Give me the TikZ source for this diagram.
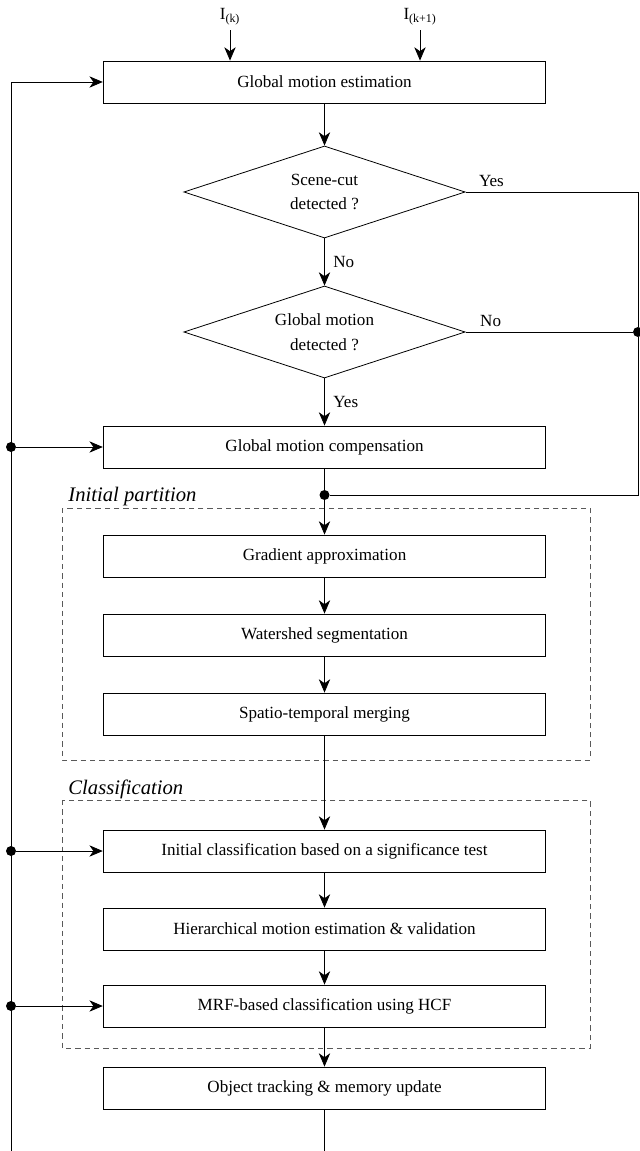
\documentclass[tikz,border=0pt]{standalone}
\usepackage{fontspec}
\setmainfont{Liberation Serif}
\usetikzlibrary{arrows.meta,shapes.geometric}

\begin{document}
\begin{tikzpicture}[x=0.75pt,y=-0.75pt,line width=0.6pt,
  font=\fontsize{12.8}{15}\selectfont,
  stagebox/.style={draw,minimum width=332pt,minimum height=31.5pt,inner sep=2pt},
  testnode/.style={diamond,draw,aspect=3.05,minimum width=211pt,minimum height=69pt,inner sep=0pt,
    align=center,font=\fontsize{12.8}{18.5}\selectfont},
  flow/.style={-{Stealth[length=10pt,width=8.5pt,inset=3pt]}},
  junction/.style={circle,fill,inner sep=0pt,minimum size=7.5pt},
  groupframe/.style={draw=black!65,line width=0.5pt,dash pattern=on 4pt off 3pt},
  grouplabel/.style={anchor=base west,inner sep=0pt,font=\fontsize{15.5}{18}\selectfont\itshape}]
\useasboundingbox (0,0) rectangle (639,1151);

% inputs and global motion
\node (ik)  at (230,17) {I\textsubscript{(k)}};
\node (ik1) at (420,17) {I\textsubscript{(k+1)}};
\node[stagebox] (gme) at (324.5,82) {Global motion estimation};
\node[testnode] (cut) at (324.5,192) {Scene-cut\\detected ?};
\node[testnode] (gmd) at (324.5,332) {Global motion\\detected ?};
\node[stagebox] (gmc) at (324.5,447) {Global motion compensation};

% initial partition
\draw[groupframe] (62,508) rectangle (590,760);
\node[grouplabel] (iplab) at (68,501) {Initial partition};
\node[stagebox] (ga)  at (324.5,556) {Gradient approximation};
\node[stagebox] (ws)  at (324.5,635) {Watershed segmentation};
\node[stagebox] (stm) at (324.5,714) {Spatio-temporal merging};

% classification
\draw[groupframe] (62,800) rectangle (590,1048);
\node[grouplabel] (cllab) at (68,794) {Classification};
\node[stagebox] (ic)  at (324.5,851)  {Initial classification based on a significance test};
\node[stagebox] (hme) at (324.5,929)  {Hierarchical motion estimation \& validation};
\node[stagebox] (mrf) at (324.5,1006) {MRF-based classification using HCF};
\node[stagebox] (ot)  at (324.5,1088) {Object tracking \& memory update};

% junctions
\node[junction] (jcut) at (324.5,495) {};
\node[junction] (jgm)  at (638,332) {};
\node[junction] (jl1)  at (11,447) {};
\node[junction] (jl2)  at (11,851) {};
\node[junction] (jl3)  at (11,1006) {};
\coordinate (rtop) at (638,192);
\coordinate (lbot) at (11,1151);
\coordinate (ltop) at (11,82);
\coordinate (obot) at (324.5,1151);

% main flow
\draw[flow] (ik) -- (ik |- gme.north);
\draw[flow] (ik1) -- (ik1 |- gme.north);
\draw[flow] (gme) -- (cut);
\draw[flow] (cut) -- node[right,xshift=3pt] {No} (gmd);
\draw[flow] (gmd) -- node[right,xshift=3pt] {Yes} (gmc);
\draw (gmc) -- (jcut);
\draw[flow] (jcut) -- (ga);
\draw[flow] (ga) -- (ws);
\draw[flow] (ws) -- (stm);
\draw[flow] (stm) -- (ic);
\draw[flow] (ic) -- (hme);
\draw[flow] (hme) -- (mrf);
\draw[flow] (mrf) -- (ot);
\draw (ot) -- (obot);

% bypass on the right
\draw (cut.east) -- node[above,pos=0.15] {Yes} (rtop) -- (jgm) |- (jcut);
\draw (gmd.east) -- node[above,pos=0.15] {No} (jgm);

% feedback on the left
\draw[flow] (lbot) -- (ltop) -- (gme.west);
\draw[flow] (jl1) -- (gmc.west);
\draw[flow] (jl2) -- (ic.west);
\draw[flow] (jl3) -- (mrf.west);
\end{tikzpicture}
\end{document}
